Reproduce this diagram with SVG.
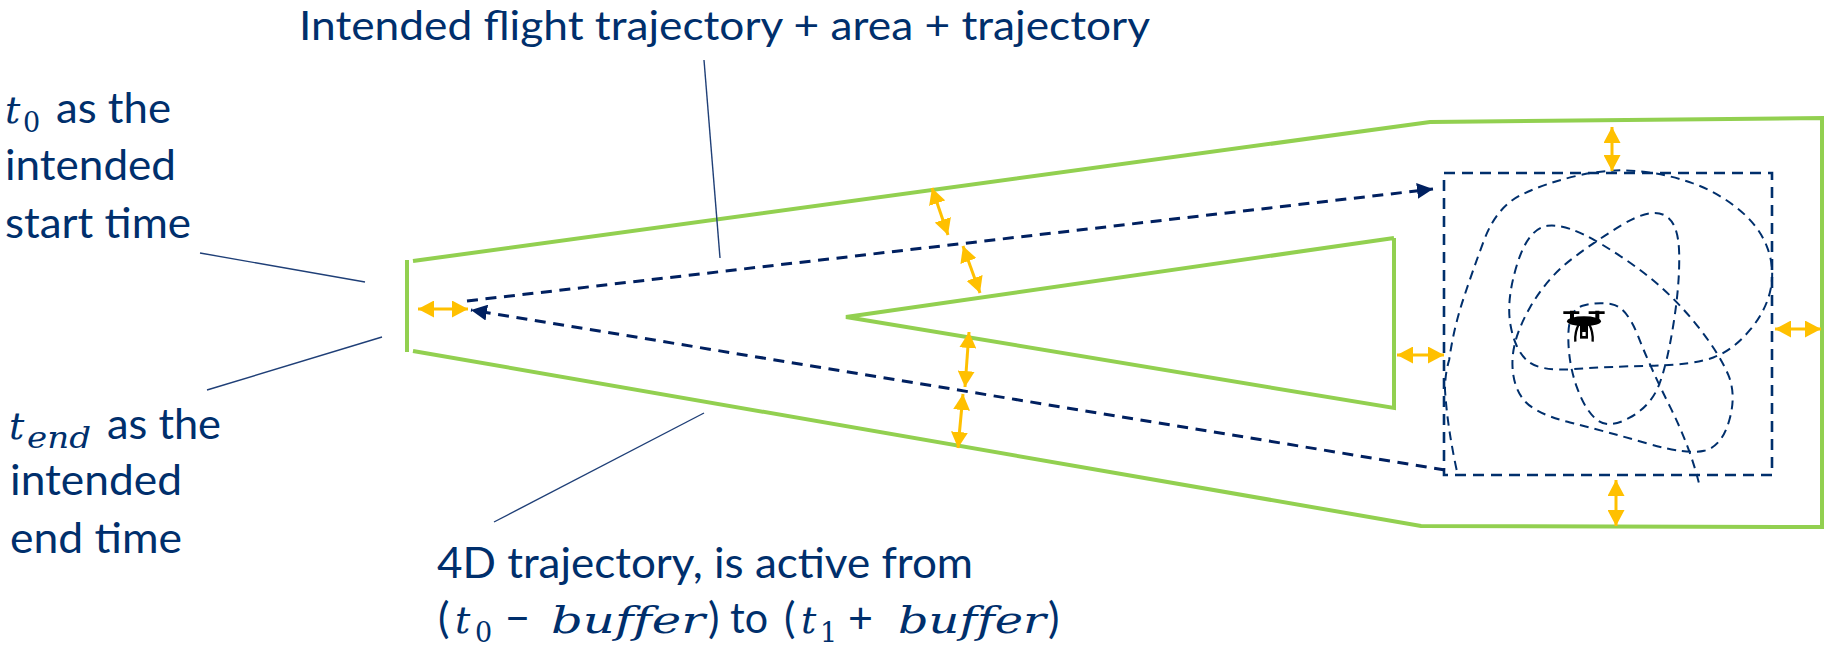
<svg xmlns="http://www.w3.org/2000/svg" width="1824" height="649" viewBox="0 0 1824 649">
<style>
.g{fill:none;stroke:#92D050;stroke-width:4}
.t{font-family:Lato,"Open Sans",sans-serif;font-size:43px;fill:#002F6C}
.m{font-family:"DejaVu Serif",serif;font-style:italic;font-size:38px;fill:#002F6C;font-variant-ligatures:none}
.s{font-family:"DejaVu Serif",serif;font-size:27px;fill:#002F6C}
.e{font-family:"DejaVu Serif",serif;font-style:italic;font-size:30px;fill:#002F6C}
.l{stroke:#1F3F77;stroke-width:1.4;fill:none}
.a{stroke:#FFC000;stroke-width:3;fill:none;marker-start:url(#oa);marker-end:url(#oa)}
.d{stroke:#002060;stroke-width:3;fill:none;stroke-dasharray:11 7.6;marker-end:url(#na)}
</style>
<defs>
<marker id="oa" markerUnits="userSpaceOnUse" markerWidth="17" markerHeight="17" refX="16" refY="8.5" orient="auto-start-reverse"><path d="M0 0L16 8.5L0 17Z" fill="#FFC000"/></marker>
<marker id="na" markerUnits="userSpaceOnUse" markerWidth="16" markerHeight="16" refX="16" refY="8" orient="auto"><path d="M0 0L16 8L0 16Z" fill="#002060"/></marker>
</defs>
<rect width="1824" height="649" fill="#fff"/>
<g id="trajectory-outer">
<path class="g" d="M407 260V352"/>
<path class="g" d="M413 261L1430 122L1822 118V527L1421 526L413 351"/>
</g>
<g id="trajectory-inner"><path class="g" d="M1394 238V408L846 317L1394 238"/></g>
<g id="area">
<rect x="1444" y="173" width="328" height="302" fill="none" stroke="#002F6C" stroke-width="2.6" stroke-dasharray="11 7"/>
<path transform="translate(1400 150) scale(.3333)" fill="none" stroke="#002F6C" stroke-width="6" stroke-dasharray="27 18" d="M170 960Q142 830 135 720Q135 670 147.5 630Q160 540 187.5 455Q215 370 252.5 270Q290 170 365 134Q440 98 535 76.5Q630 55 715 63.5Q800 72 875 98.5Q950 125 1012.5 175Q1075 225 1100 287.5Q1125 350 1112.5 415Q1100 480 1050 540Q1000 600 940 622.5Q880 645 750 647.5Q620 650 520 657.5Q420 665 382.5 632.5Q345 600 331.5 525Q318 450 351.5 342.5Q385 235 442.5 227.5Q500 220 600 280Q700 340 770 400Q840 460 900 537.5Q960 615 985 675Q1010 735 987.5 812.5Q965 890 912.5 902.5Q860 915 740 880Q620 845 510 817.5Q400 790 367.5 745Q335 700 337.5 630Q340 560 390 472.5Q440 385 515 327.5Q590 270 670 222.5Q750 175 792.5 195Q835 215 837.5 307.5Q840 400 820 525Q800 650 775 710Q750 770 687.5 804Q625 838 590 809Q555 780 530 710Q505 640 505 560Q505 480 547.5 467.5Q590 455 635 462.5Q680 470 715 560Q750 650 810 770Q870 890 897 1000"/>
</g>
<g id="drone" transform="translate(1400 150) scale(.3333)">
<path d="M490 488H538M566 488H614" stroke="#000" stroke-width="8" fill="none"/>
<path d="M516 482V510M592 482V510" stroke="#000" stroke-width="12" fill="none"/>
<ellipse cx="552" cy="514" rx="51" ry="15" fill="#000"/>
<path d="M537 522Q524 545 526 575M567 522Q580 545 578 575" stroke="#000" stroke-width="7" fill="none"/>
<path d="M540 526H564V566H540Z" fill="#000"/>
<rect x="547" y="546" width="10" height="12" fill="#fff"/>
</g>
<g id="connectors">
<path class="d" d="M467 301L1433 189"/>
<path class="d" d="M1445 470L471 310"/>
<path class="a" d="M932 188L948 235"/>
<path class="a" d="M963 246L980 293"/>
<path class="a" d="M969 332L965 387"/>
<path class="a" d="M963 394L958 448"/>
<path class="a" d="M418 309H468"/>
<path class="a" d="M1397 355H1444"/>
<path class="a" d="M1775 329H1821"/>
<path class="a" d="M1612 127V171"/>
<path class="a" d="M1616 480V526"/>
<path class="l" d="M200 253L365 282"/>
<path class="l" d="M382 337L207 390"/>
<path class="l" d="M704 413L494 522"/>
<path class="l" d="M704 60L720 258"/>
</g>
<g id="label-flight"><text class="t" x="299" y="40" font-size="40" style="font-size:40px" textLength="851" lengthAdjust="spacingAndGlyphs">Intended flight trajectory + area + trajectory</text></g>
<g id="label-start">
<text class="m" x="5" y="123">t</text><text class="s" x="23" y="132">0</text>
<text class="t" x="56" y="123" textLength="115" lengthAdjust="spacingAndGlyphs">as the</text>
<text class="t" x="5" y="180" textLength="171" lengthAdjust="spacingAndGlyphs">intended</text>
<text class="t" x="5" y="238" textLength="186" lengthAdjust="spacingAndGlyphs">start time</text>
</g>
<g id="label-end">
<text class="m" x="9" y="439">t</text><text class="e" x="27" y="448" textLength="64" lengthAdjust="spacingAndGlyphs">end</text>
<text class="t" x="107" y="439" textLength="114" lengthAdjust="spacingAndGlyphs">as the</text>
<text class="t" x="10" y="495" textLength="172" lengthAdjust="spacingAndGlyphs">intended</text>
<text class="t" x="10" y="553" textLength="172" lengthAdjust="spacingAndGlyphs">end time</text>
</g>
<g id="label-4d">
<text class="t" x="437" y="578" textLength="536" lengthAdjust="spacingAndGlyphs">4D trajectory, is active from</text>
<text class="t" x="438" y="633">(</text><text class="m" x="455" y="633">t</text><text class="s" x="475" y="642">0</text>
<text class="t" x="505" y="633">−</text><text class="m" x="551" y="633" textLength="154" lengthAdjust="spacingAndGlyphs">buffer</text>
<text class="t" x="708" y="633">)</text><text class="t" x="730" y="633" textLength="38" lengthAdjust="spacingAndGlyphs">to</text>
<text class="t" x="784" y="633">(</text><text class="m" x="801" y="633">t</text><text class="s" x="820" y="642">1</text>
<text class="t" x="848" y="633">+</text><text class="m" x="898" y="633" textLength="148" lengthAdjust="spacingAndGlyphs">buffer</text>
<text class="t" x="1048" y="633">)</text>
</g>
</svg>
